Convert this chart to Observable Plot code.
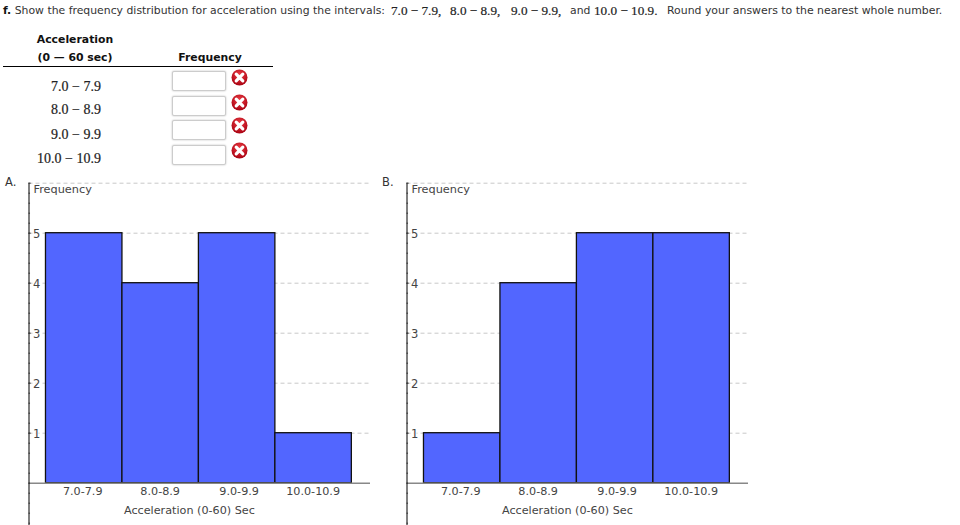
<!DOCTYPE html>
<html><head><meta charset="utf-8">
<script src="https://cdn.jsdelivr.net/npm/d3@7"></script>
<script src="https://cdn.jsdelivr.net/npm/@observablehq/plot@0.6"></script>
<style>
html,body{margin:0;padding:0;background:#fff;}
body{width:960px;height:525px;position:relative;overflow:hidden;font-family:"DejaVu Sans",sans-serif;font-size:11px;color:#333;}
.a{position:absolute;white-space:nowrap;line-height:14px;}
.m{font-family:"Liberation Serif",serif;font-size:13.2px;color:#222;-webkit-text-stroke:0.2px #222;}
.r{font-size:14px;}
.b{font-weight:bold;color:#111;}
.c{transform:translateX(-50%);}
.inp{position:absolute;left:172px;width:54px;height:20px;box-sizing:border-box;padding:0;border:1px solid #ccc;border-radius:2px;box-shadow:0 0 2px #bbb;background:#fff;}
.ic{position:absolute;left:231px;}
.panel{position:absolute;top:178px;}
.panel svg{display:block;overflow:visible;}
</style></head><body>
<div class="a" style="left:3px;top:4px;font-size:10.85px"><span class="b">f.</span> Show the frequency distribution for acceleration using the intervals:</div>
<div class="a m" style="left:391px;top:4px">7.0 − 7.9,</div>
<div class="a m" style="left:450px;top:4px">8.0 − 8.9,</div>
<div class="a m" style="left:511px;top:4px">9.0 − 9.9,</div>
<div class="a" style="left:570px;top:4px;font-size:10.85px">and</div>
<div class="a m" style="left:594px;top:4px">10.0 − 10.9.</div>
<div class="a" style="left:667px;top:4px;font-size:10.9px">Round your answers to the nearest whole number.</div>
<div class="a b c" style="left:75px;top:33px;font-size:10.85px">Acceleration</div>
<div class="a b c" style="left:75px;top:51px;font-size:10.85px">(0 — 60 sec)</div>
<div class="a b c" style="left:210px;top:51px;font-size:10.85px">Frequency</div>
<div style="position:absolute;left:3px;top:66px;width:270px;height:1px;background:#000"></div>
<div id="rows"></div>
<div class="a" style="left:5px;top:175px;font-size:11.5px">A.</div>
<div class="a" style="left:382px;top:175px;font-size:11.5px">B.</div>
<div id="pa" class="panel" style="left:0"></div>
<div id="pb" class="panel" style="left:378px"></div>
<script>
const categories = ["7.0-7.9", "8.0-8.9", "9.0-9.9", "10.0-10.9"];
const binStart = [7, 8, 9, 10];
const binEnd = [8, 9, 10, 11];
const freqA = [5, 4, 5, 1];
const freqB = [1, 4, 5, 5];
const yLabels = [1, 2, 3, 4, 5];
const yGrid = [1, 2, 3, 4, 5, 6];
const yMinor = d3.range(-4, 30).map(d => d / 5);
const labelNudge = [-1.5, -0.5, 2, -0.5];
const rowLabels = ["7.0 − 7.9", "8.0 − 8.9", "9.0 − 9.9", "10.0 − 10.9"];
const rowTextTop = [80, 103, 128, 152];
const rowBoxTop = [71, 96, 120, 145];
const rowIconTop = [69, 94, 117, 142];

const rows = document.getElementById("rows");
rowLabels.forEach((t, i) => {
  rows.insertAdjacentHTML("beforeend",
    `<div class="a m r" style="right:${960-101}px;top:${rowTextTop[i]}px">${t}</div>
     <input class="inp" type="text" style="top:${rowBoxTop[i]}px">
     <svg class="ic" style="top:${rowIconTop[i]}px" width="17" height="17" viewBox="0 0 17 17">
       <defs><radialGradient id="g${i}" cx="50%" cy="35%" r="65%"><stop offset="0%" stop-color="#f04048"/><stop offset="100%" stop-color="#a80010"/></radialGradient></defs>
       <circle cx="8.5" cy="8.5" r="8" fill="url(#g${i})"/>
       <path d="M5.2 5.2L11.8 11.8M11.8 5.2L5.2 11.8" stroke="#fff" stroke-width="3.2" stroke-linecap="round"/>
     </svg>`);
});

const xMin = 6.778, xMax = 11.244, yMin = -0.846, yMax = 6;
const tickEnd = xMin + 0.028, minorEnd = xMin + 0.02;

function panel(values) {
  const bars = categories.map((c, i) => ({c, x1: binStart[i], x2: binEnd[i], y: values[i]}));
  return Plot.plot({
    width: 378, height: 347,
    marginLeft: 28.5, marginRight: 8, marginTop: 4.7, marginBottom: 0,
    x: {domain: [xMin, xMax], axis: null},
    y: {domain: [yMin, yMax], axis: null},
    style: {background: "transparent", fontFamily: "DejaVu Sans", overflow: "visible"},
    marks: [
      Plot.ruleY(yGrid, {stroke: "#c8c8c8", strokeDasharray: "4,3", strokeWidth: 1}),
      Plot.rectY(bars, {x1: "x1", x2: "x2", y1: 0, y2: "y", fill: "#5266ff", stroke: "#111", strokeWidth: 1.3, inset: 0}),
      Plot.ruleY([0], {stroke: "#888", strokeWidth: 1.5}),
      Plot.ruleX([xMin], {y1: yMin, y2: yMax, stroke: "#000", strokeWidth: 1}),
      Plot.ruleY(yMinor, {x1: xMin, x2: minorEnd, stroke: "#333", strokeWidth: 1}),
      Plot.ruleY(yGrid, {x1: xMin, x2: tickEnd, stroke: "#333", strokeWidth: 1}),
      Plot.text(yLabels, {x: xMin, y: d => d, text: d => String(d), dx: 4, dy: 1, textAnchor: "start", fontSize: 11.5, fill: "#444", stroke: "#fff", strokeWidth: 2}),
      Plot.text(["Frequency"], {frameAnchor: "top-left", dx: 4.5, dy: 1, lineHeight: 1.05, fontSize: 11.3, fill: "#444"}),
      ...categories.map((c, i) => Plot.text([c], {x: (binStart[i] + binEnd[i]) / 2, y: 0, dx: labelNudge[i], dy: 8, fontSize: 11.2, fill: "#444"})),
      Plot.text(["Acceleration (0-60) Sec"], {x: 9, y: 0, dy: 27, dx: -9.5, fontSize: 11.2, fill: "#444"})
    ]
  });
}
document.getElementById("pa").append(panel(freqA));
document.getElementById("pb").append(panel(freqB));
</script>
</body></html>
